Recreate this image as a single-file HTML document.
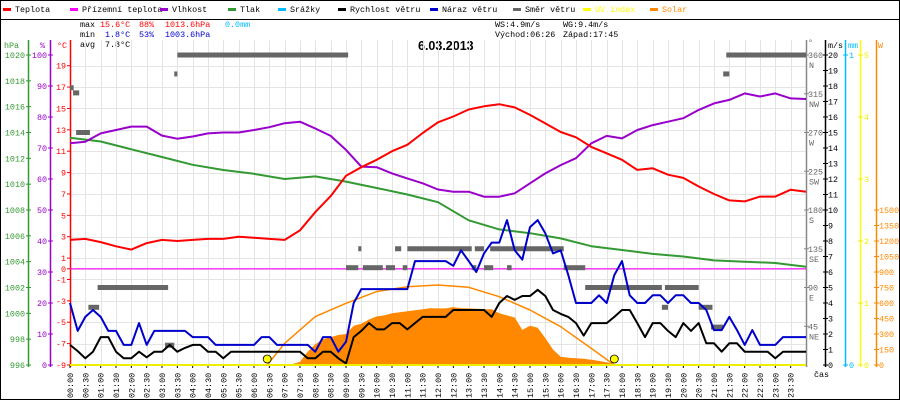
<!DOCTYPE html>
<html><head><meta charset="utf-8"><style>
html,body{margin:0;padding:0;background:#fff}
svg{display:block}
text{font-family:"Liberation Mono",monospace;font-size:8.4px}
</style></head><body>
<svg id="c" width="900" height="400" viewBox="0 0 900 400" xmlns="http://www.w3.org/2000/svg">
<rect x="0.5" y="0.5" width="899" height="399" fill="#fff" stroke="#000"/>
<line x1="0" y1="19.5" x2="900" y2="19.5" stroke="#000"/>
<g id="legend"></g>
<g>
<text x="80" y="27" fill="#000">max</text><text x="100" y="27" fill="#f00">15.6°C</text><text x="139" y="27" fill="#f00">88%</text><text x="165" y="27" fill="#f00">1013.6hPa</text><text x="225" y="27" fill="#0bf">0.0mm</text>
<text x="80" y="37" fill="#000">min</text><text x="105" y="37" fill="#00c">1.8°C</text><text x="139" y="37" fill="#00c">53%</text><text x="165" y="37" fill="#00c">1003.6hPa</text>
<text x="80" y="47" fill="#000">avg</text><text x="105" y="47" fill="#000">7.8°C</text>
<text x="495" y="27">WS:4.9m/s</text><text x="563" y="27">WG:9.4m/s</text>
<text x="495" y="37">Východ:06:26</text><text x="563" y="37">Západ:17:45</text>
</g>
<text x="418" y="50" style="font-family:'Liberation Sans',sans-serif;font-size:12.5px;font-weight:bold">6.03.2013</text>
<g id="grid"></g><g id="axes"></g><g id="series"></g>
</svg>
<script>
const hours30 = [0,0.5,1,1.5,2,2.5,3,3.5,4,4.5,5,5.5,6,6.5,7,7.5,8,8.5,9,9.5,10,10.5,11,11.5,12,12.5,13,13.5,14,14.5,15,15.5,16,16.5,17,17.5,18,18.5,19,19.5,20,20.5,21,21.5,22,22.5,23,23.5,24];
const temperature = [2.7,2.8,2.5,2.1,1.8,2.4,2.7,2.6,2.7,2.8,2.8,3.0,2.9,2.8,2.7,3.6,5.3,6.8,8.7,9.5,10.2,11.0,11.6,12.7,13.7,14.25,14.9,15.2,15.4,15.1,14.4,13.6,12.8,12.3,11.4,10.8,10.2,9.25,9.4,8.8,8.5,7.7,7.0,6.4,6.3,6.75,6.75,7.4,7.2];
const humidity = [71.5,72,74.7,75.8,76.9,76.9,74,73,73.7,74.7,75,75,75.8,76.7,78,78.5,76.3,73.9,69.4,64,63.8,61.8,60.2,58.6,56.6,55.9,55.9,54.3,54.3,55.4,58.6,61.8,64.5,66.7,71.5,73.9,73.1,75.8,77.4,78.5,79.6,82.3,84.4,85.5,87.6,86.6,87.6,86,85.8];
const pressure = [1013.6,1013.3,1012.7,1012.1,1011.5,1011.1,1010.8,1010.4,1010.6,1010.2,1009.7,1009.2,1008.6,1007.2,1006.5,1006.2,1005.8,1005.2,1004.9,1004.6,1004.4,1004.1,1004.0,1003.9,1003.6];
const apparentTemp = [0,0];
const windSpeed = [1.3,0.9,0.43,0.86,1.8,1.8,0.86,0.43,0.43,0.86,0.5,0.86,0.86,1.3,0.86,1.1,1.3,1.3,0.86,0.86,0.43,0.86,0.86,0.86,0.86,0.86,0.86,0.86,0.86,0.86,0.86,0.43,0.43,0.86,0.86,0.43,0.1,1.8,2.2,2.7,2.3,2.3,2.7,2.7,2.3,2.7,3.1,3.1,3.1,3.1,3.55,3.55,3.55,3.55,3.55,3.1,4.0,4.45,4.2,4.45,4.45,4.85,4.45,3.55,3.3,3.1,2.7,1.9,2.7,2.7,2.7,3.1,3.55,3.55,2.7,1.8,2.7,2.7,2.2,1.8,2.7,2.2,2.7,1.4,1.4,0.86,1.4,1.4,0.86,0.86,0.86,0.86,0.43,0.86,0.86,0.86,0.86];
const windGust = [4.0,2.2,3.1,3.55,3.1,2.2,2.2,1.3,1.3,2.7,1.3,2.2,2.2,2.2,2.2,2.2,1.8,1.8,1.8,1.3,1.3,1.3,1.3,1.3,1.3,1.8,1.8,1.3,1.3,1.3,1.3,1.3,0.86,1.8,1.8,0.86,1.5,4.0,4.9,4.9,4.9,4.9,4.9,4.9,4.9,6.7,6.7,6.7,6.7,6.7,6.4,7.4,6.7,6.0,7.2,7.9,7.9,9.35,7.4,6.8,8.9,9.35,8.5,7.2,7.4,5.8,4.0,4.0,4.0,4.5,4.0,5.8,6.7,4.5,4.0,4.0,4.5,4.5,4.0,4.5,4.5,4.0,4.0,3.55,2.25,2.25,3.1,2.25,1.3,2.25,1.3,1.3,1.3,1.8,1.8,1.8,1.8];
const solar = [0,0,0,0,0,0,0,0,0,0,0,0,0,0,0,0,0,0,0,0,0,0,0,0,0,0,0,0,0,10,30,130,200,250,270,290,300,380,400,440,470,480,500,510,520,530,540,550,548,548,560,550,548,545,540,540,500,480,460,340,380,360,260,150,80,70,65,60,50,40,25,10,0,0,0,0,0,0,0,0,0,0,0,0,0,0,0,0,0,0,0,0,0,0,0,0,0];
const solarTheoryHours = [6.43,7,8,9,10,11,12,13,14,15,16,17,17.75];
const solarTheory = [0,210,468,597,710,758,774,752,661,532,371,161,0];
const dirStart = [0.0,0.1,0.2,0.6,0.9,3.1,3.4,3.5,9.0,9.4,9.55,10.3,10.6,10.85,11.0,13.1,13.2,13.5,13.7,14.25,16.1,16.8,19.3,19.4,20.5,20.9,21.3,21.4];
const dirEnd = [0.12,0.3,0.65,0.95,3.2,3.4,3.5,9.07,9.4,9.5,10.2,10.6,10.8,11.0,13.1,13.25,13.5,13.8,16.1,14.4,16.8,19.3,19.5,20.5,20.95,21.3,21.5,24];
const dirDeg = [322,316,270,67,90,23,338,360,113,135,113,113,135,113,135,113,135,113,135,113,113,90,67,90,67,44,338,360];
const sunEvents = [6.43,17.75];
const timeLabels = ["00:00","00:30","01:00","01:30","02:00","02:30","03:00","03:30","04:00","04:30","05:00","05:30","06:00","06:30","07:00","07:30","08:00","08:30","09:00","09:30","10:00","10:30","11:00","11:30","12:00","12:30","13:00","13:30","14:00","14:30","15:00","15:30","16:00","16:30","17:00","17:30","18:00","18:30","19:00","19:30","20:00","20:30","21:00","21:30","22:00","22:30","23:00","23:30"];
const tempTicks = [19,17,15,13,11,9,7,5,3,1,0,-1,-3,-5,-7,-9];
const pressTicks = [1020,1018,1016,1014,1012,1010,1008,1006,1004,1002,1000,998,996];
const humTicks = [100,90,80,70,60,50,40,30,20,10,0];
const dirTicks = [360,315,270,225,180,135,90,45];
const dirNames = ["N","NW","W","SW","S","SE","E","NE"];
const windTicks = [20,19,18,17,16,15,14,13,12,11,10,9,8,7,6,5,4,3,2,1,0];
const uvTicks = [5,4,3,2,1,0];
const solarTicks = [1500,1350,1200,1050,900,750,600,450,300,150,0];

const X0=70,X1=806,Y0=55,Y1=365;
const NS="http://www.w3.org/2000/svg";
const xT=h=>X0+h*(X1-X0)/24;
const yTemp=t=>Y1-(t+9)*(Y1-Y0)/29;
const yHum=v=>Y1-v*(Y1-Y0)/100;
const yPress=p=>Y1-(p-996)*(Y1-Y0)/24;
const yWind=v=>Y1-v*(Y1-Y0)/20;
const yDir=d=>Y1-d*(Y1-Y0)/360;
const yUV=v=>Y1-v*(Y1-Y0)/5;
const ySol=w=>Y1-w*(Y1-Y0)/3000;
function el(tag,attrs,parent,txt){const e=document.createElementNS(NS,tag);for(const k in attrs)e.setAttribute(k,attrs[k]);if(txt!==undefined)e.textContent=txt;parent.appendChild(e);return e;}
const G=document.getElementById('grid'),A=document.getElementById('axes'),S=document.getElementById('series'),L=document.getElementById('legend');

const legNames=["Teplota","Přízemní teplota","Vlhkost","Tlak","Srážky","Rychlost větru","Náraz větru","Směr větru","UV index","Solar"];
const legCols=["#f00","#f0f","#90c","#393","#0bf","#000","#00c","#666","#ff0","#f80"];
const legX=[3,70,160,228,278,338,430,513,583,650];
for(let i=0;i<legNames.length;i++){
 const g=el('g',{},L);
 
 
 el('rect',{x:legX[i],y:8,width:8,height:3,fill:legCols[i]},g);
 el('text',{x:legX[i]+12,y:12,fill:(i>=8?legCols[i]:'#000')},g,legNames[i]);
}
for(let k=0;k<=48;k++){const x=Math.round(xT(k/2))+0.5;const l=el('line',{x1:x,y1:40,x2:x,y2:Y1,stroke:'#e4e4e4'},G);
 }
tempTicks.forEach(t=>{const y=Math.round(yTemp(t))+0.5;const l=el('line',{x1:X0,y1:y,x2:X1,y2:y,stroke:'#e4e4e4'},G);
 });
function vaxis(x,col,name,y0){const l=el('line',{x1:x+0.5,y1:y0,x2:x+0.5,y2:Y1+2,stroke:col,'stroke-width':1.5},A);}
vaxis(28,'#393','pressure-axis',40);vaxis(50,'#90c','humidity-axis',40);vaxis(70,'#f00','temperature-axis',40);
el('text',{x:4,y:48,fill:'#393'},A,'hPa');el('text',{x:40,y:48,fill:'#90c'},A,'%');el('text',{x:57,y:48,fill:'#f00'},A,'°C');
pressTicks.forEach(p=>{const y=yPress(p);el('line',{x1:26,y1:y,x2:31,y2:y,stroke:'#393'},A);const t=el('text',{x:25,y:y+3,fill:'#393','text-anchor':'end'},A,p);});
humTicks.forEach(v=>{const y=yHum(v);el('line',{x1:48,y1:y,x2:53,y2:y,stroke:'#90c'},A);const t=el('text',{x:47,y:y+3,fill:'#90c','text-anchor':'end'},A,v);});
tempTicks.forEach(v=>{const y=yTemp(v);el('line',{x1:67,y1:y,x2:70,y2:y,stroke:'#f00'},A);const t=el('text',{x:66,y:y+3,fill:'#f00','text-anchor':'end'},A,v);});
vaxis(806,'#888','direction-axis',40);vaxis(825,'#000','wind-axis',40);vaxis(845,'#0bf','rain-axis',40);vaxis(860,'#ff0','uv-axis',40);vaxis(876,'#f80','solar-axis',40);
el('text',{x:808,y:45,fill:'#666'},A,'°');el('text',{x:828,y:48},A,'m/s');el('text',{x:848,y:48,fill:'#0bf'},A,'mm');el('text',{x:878,y:48,fill:'#f80'},A,'W');
dirTicks.forEach((d,i)=>{const y=yDir(d);el('line',{x1:804,y1:y,x2:809,y2:y,stroke:'#888'},A);const t=el('text',{x:808,y:y+3,fill:'#666'},A,d);el('text',{x:809,y:y+13,fill:'#666'},A,dirNames[i]);});
windTicks.forEach(v=>{const y=yWind(v);el('line',{x1:823,y1:y,x2:828,y2:y,stroke:'#000'},A);const t=el('text',{x:828,y:y+3},A,v);});
[1,0].forEach(v=>{const y=Y1-v*(Y1-Y0);el('line',{x1:843,y1:y,x2:848,y2:y,stroke:'#0bf'},A);el('text',{x:849,y:y+3,fill:'#0bf'},A,v);});
uvTicks.forEach(v=>{const y=yUV(v);el('line',{x1:858,y1:y,x2:863,y2:y,stroke:'#ee0'},A);el('text',{x:864,y:y+3,fill:'#ee0'},A,v);});
solarTicks.forEach(v=>{const y=ySol(v);el('line',{x1:874,y1:y,x2:879,y2:y,stroke:'#f80'},A);const t=el('text',{x:879,y:y+3,fill:'#f80'},A,v);});
timeLabels.forEach((s,i)=>{const x=xT(i/2);el('line',{x1:x,y1:Y1,x2:x,y2:Y1+3,stroke:'#000'},A);const t=el('text',{x:0,y:0,transform:`translate(${x+3},398) rotate(-90)`},A,s);});
el('text',{x:814,y:377},A,'čas');

let d=`M${xT(0)},${Y1}`;solar.forEach((w,i)=>{d+=` L${xT(i/4).toFixed(1)},${ySol(w).toFixed(1)}`;});d+=` L${xT(24)},${Y1} Z`;
const sp=el('path',{d:d,fill:'#f80'},S);
function line(hs,vals,yf,col,name,w){const pts=vals.map((v,i)=>xT(hs(i)).toFixed(1)+','+yf(v).toFixed(1)).join(' ');const p=el('polyline',{points:pts,fill:'none',stroke:col,'stroke-width':w||2,'stroke-linejoin':'round'},S);}
line(i=>solarTheoryHours[i],solarTheory,ySol,'#f80','solar-theory-line',1.5);
line(i=>i,pressure,yPress,'#393','pressure-line');
line(i=>hours30[i],humidity,yHum,'#90c','humidity-line');
line(i=>hours30[i],temperature,yTemp,'#f00','temperature-line');
line(i=>i*24,apparentTemp,yTemp,'#f0f','apparent-temperature-line',1.2);
dirDeg.forEach((dg,i)=>{const r=el('rect',{x:xT(dirStart[i]),y:yDir(dg)-2.5,width:Math.max(3,xT(dirEnd[i])-xT(dirStart[i])),height:5,fill:'#666'},S);
 });
line(i=>i/4,windGust,yWind,'#00c','wind-gust-line');
line(i=>i/4,windSpeed,yWind,'#000','wind-speed-line');
const uv=el('line',{x1:X0,y1:Y1,x2:X1,y2:Y1,stroke:'#ee0','stroke-width':2},S);
sunEvents.forEach(h=>{const c=el('circle',{cx:xT(h),cy:Y1-6,r:4,fill:'#ff0',stroke:'#000','stroke-width':0.8},S);});
</script>
</body></html>
